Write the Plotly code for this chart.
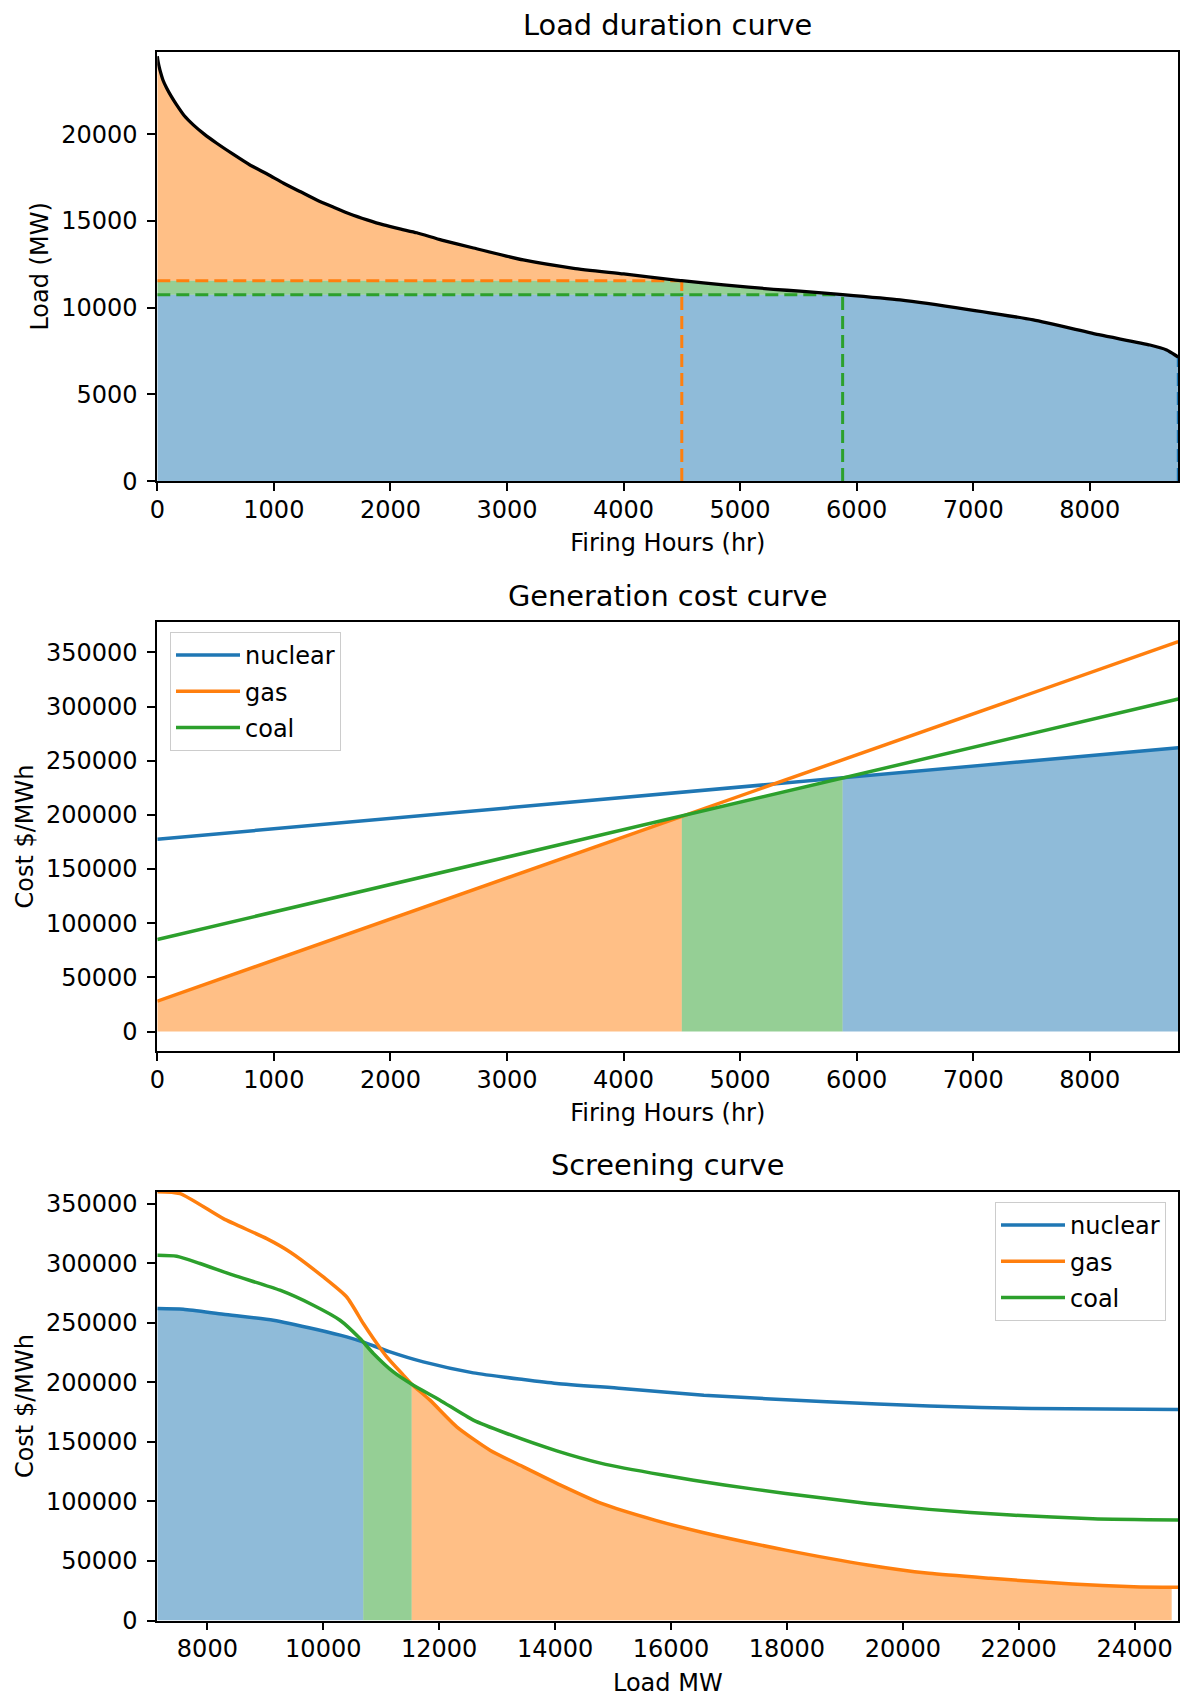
import numpy as np
import plotly.graph_objects as go

# ---------------- data ----------------
# Load duration curve: firing hours vs load (MW)
ldc_hours = [0, 5, 12, 23, 50, 81, 120, 166, 230, 309, 400, 510, 650, 795, 950, 1084, 1230,
             1368, 1510, 1653, 1800, 1942, 2090, 2226, 2440, 2713, 3140, 3572, 4001, 4430,
             4500, 4859, 5288, 5514, 5880, 6372, 6945, 7516, 8088, 8517, 8660, 8732, 8760]
ldc_load = [24500, 24250, 24000, 23700, 23100, 22650, 22180, 21690, 21080, 20540, 20020, 19480,
            18850, 18230, 17680, 17170, 16680, 16210, 15800, 15400, 15060, 14770, 14530,
            14320, 13900, 13440, 12751, 12272, 11944, 11597, 11557, 11309, 11061, 10950,
            10750, 10444, 9907, 9291, 8426, 7849, 7561, 7272, 7140]

# dispatch thresholds (load levels and firing hours where technologies switch)
gas_level = 11557
coal_level = 10750
gas_hours = 4500
coal_hours = 5880
year_hours = 8760
min_load = 7140

# Generation cost curve: cost at 0 h and at 8760 h
techs = ["nuclear", "gas", "coal"]
gen_hours = [0, 8760]
gen_nuclear = [177500, 262000]
gen_gas = [28000, 360000]
gen_coal = [85000, 307000]
gen_cross_hours = [4500, 5880]
gen_cross_cost = [198500, 234000]

# Screening curve: cost vs load
scr_nuclear_load = [7136, 7585, 8275, 9138, 9887, 10404, 10680, 11152, 11726, 12589, 13452,
                    14028, 15154, 16567, 18686, 20453, 22220, 24754]
scr_nuclear_cost = [261900, 261300, 257100, 252100, 244300, 238100, 233900, 225500, 217100,
                    207900, 202300, 199000, 194800, 189200, 183600, 180000, 178000, 177200]
scr_gas_load = [7136, 7528, 8275, 9024, 9426, 10000, 10404, 10691, 10864, 11095, 11381, 11526,
                11842, 12303, 12877, 13452, 14094, 14800, 15719, 16567, 17980, 19393, 20453,
                21512, 22925, 23986, 24754]
scr_gas_cost = [360000, 358400, 337400, 320600, 309400, 288400, 271600, 249300, 236700, 221300,
                206000, 198400, 185000, 162600, 143000, 129000, 113700, 98300, 84300, 73700,
                59100, 46600, 39600, 35400, 30600, 28400, 27900]
scr_coal_load = [7136, 7471, 7873, 8448, 9253, 9828, 10289, 10634, 10864, 11209, 11526, 12014,
                 12589, 13165, 14028, 14800, 15859, 16920, 17980, 19393, 20453, 21866, 23279,
                 24754]
scr_coal_cost = [306600, 305800, 299700, 289900, 277300, 264700, 252100, 236700, 224200, 208700,
                 198400, 185000, 168200, 157000, 142400, 131900, 122100, 113700, 106700, 98300,
                 93300, 88500, 85400, 84300]
scr_cross_load = [10690, 11526]
scr_cross_cost = [233700, 198400]
scr_fill_end_load = 24640
scr_fill_end_cost = 28000

# ---------------- style ----------------
C_BLUE, C_ORANGE, C_GREEN = "#1f77b4", "#ff7f0e", "#2ca02c"
F_BLUE, F_ORANGE, F_GREEN = "rgba(31,119,180,0.5)", "rgba(255,127,14,0.5)", "rgba(44,160,44,0.5)"
FONT = "DejaVu Sans"
W, H = 1182, 1698
SPL = dict(shape="spline", smoothing=0.6)

def yd(top_px, bot_px):
    return [1 - bot_px / H, 1 - top_px / H]

XDOM = [157.3 / W, 1178.3 / W]
Y1 = yd(51.7, 481.1)
Y2 = yd(622.1, 1051.0)
Y3 = yd(1191.7, 1620.5)

fig = go.Figure()

# ---------------- panel 1: load duration curve ----------------
h = np.array(ldc_hours, dtype=float)
L = np.array(ldc_load, dtype=float)

m = h <= gas_hours
fig.add_trace(go.Scatter(x=list(h[m]) + [0], y=list(L[m]) + [gas_level], fill="toself",
                         fillcolor=F_ORANGE, line=dict(width=0), mode="lines",
                         showlegend=False, hoverinfo="skip", xaxis="x", yaxis="y"))
m = (h >= gas_hours) & (h <= coal_hours)
fig.add_trace(go.Scatter(x=[0] + list(h[m]) + [0], y=[gas_level] + list(L[m]) + [coal_level],
                         fill="toself", fillcolor=F_GREEN, line=dict(width=0), mode="lines",
                         showlegend=False, hoverinfo="skip", xaxis="x", yaxis="y"))
m = h >= coal_hours
fig.add_trace(go.Scatter(x=[0] + list(h[m]), y=[coal_level] + list(L[m]), fill="tozeroy",
                         fillcolor=F_BLUE, line=dict(width=0), mode="lines",
                         showlegend=False, hoverinfo="skip", xaxis="x", yaxis="y"))

dash = "13px,6px"
for xs, ys, col in [
    ([0, gas_hours], [gas_level, gas_level], C_ORANGE),
    ([gas_hours, gas_hours], [0, gas_level], C_ORANGE),
    ([0, coal_hours], [coal_level, coal_level], C_GREEN),
    ([coal_hours, coal_hours], [0, coal_level], C_GREEN),
    ([year_hours, year_hours], [0, min_load], C_BLUE),
]:
    fig.add_trace(go.Scatter(x=xs, y=ys, mode="lines", line=dict(color=col, width=3.0, dash=dash),
                             showlegend=False, hoverinfo="skip", xaxis="x", yaxis="y"))

fig.add_trace(go.Scatter(x=ldc_hours, y=ldc_load, mode="lines",
                         line=dict(color="black", width=3.3, shape="spline", smoothing=0.5),
                         showlegend=False, xaxis="x", yaxis="y"))

# ---------------- panel 2: generation cost curve ----------------
fig.add_trace(go.Scatter(x=[gen_hours[0], gen_cross_hours[0]], y=[gen_gas[0], gen_cross_cost[0]],
                         fill="tozeroy", fillcolor=F_ORANGE, line=dict(width=0), mode="lines",
                         showlegend=False, hoverinfo="skip", xaxis="x2", yaxis="y2"))
fig.add_trace(go.Scatter(x=gen_cross_hours, y=gen_cross_cost,
                         fill="tozeroy", fillcolor=F_GREEN, line=dict(width=0), mode="lines",
                         showlegend=False, hoverinfo="skip", xaxis="x2", yaxis="y2"))
fig.add_trace(go.Scatter(x=[gen_cross_hours[1], gen_hours[1]], y=[gen_cross_cost[1], gen_nuclear[1]],
                         fill="tozeroy", fillcolor=F_BLUE, line=dict(width=0), mode="lines",
                         showlegend=False, hoverinfo="skip", xaxis="x2", yaxis="y2"))
for name, ys, col in [("nuclear", gen_nuclear, C_BLUE), ("gas", gen_gas, C_ORANGE), ("coal", gen_coal, C_GREEN)]:
    fig.add_trace(go.Scatter(x=gen_hours, y=ys, mode="lines", name=name, line=dict(color=col, width=3.5),
                             legendgroup="g2" + name, legend="legend", xaxis="x2", yaxis="y2"))

# ---------------- panel 3: screening curve ----------------
nl = np.array(scr_nuclear_load, dtype=float); nc = np.array(scr_nuclear_cost, dtype=float)
gl = np.array(scr_gas_load, dtype=float); gc = np.array(scr_gas_cost, dtype=float)
cl = np.array(scr_coal_load, dtype=float); cc = np.array(scr_coal_cost, dtype=float)

m = nl < scr_cross_load[0]
fig.add_trace(go.Scatter(x=list(nl[m]) + [scr_cross_load[0]], y=list(nc[m]) + [scr_cross_cost[0]],
                         fill="tozeroy", fillcolor=F_BLUE, line=dict(width=0, **SPL), mode="lines",
                         showlegend=False, hoverinfo="skip", xaxis="x3", yaxis="y3"))
m = (cl > scr_cross_load[0]) & (cl < scr_cross_load[1])
fig.add_trace(go.Scatter(x=[scr_cross_load[0]] + list(cl[m]) + [scr_cross_load[1]],
                         y=[scr_cross_cost[0]] + list(cc[m]) + [scr_cross_cost[1]],
                         fill="tozeroy", fillcolor=F_GREEN, line=dict(width=0, **SPL), mode="lines",
                         showlegend=False, hoverinfo="skip", xaxis="x3", yaxis="y3"))
m = (gl > scr_cross_load[1]) & (gl < scr_fill_end_load)
fig.add_trace(go.Scatter(x=[scr_cross_load[1]] + list(gl[m]) + [scr_fill_end_load],
                         y=[scr_cross_cost[1]] + list(gc[m]) + [scr_fill_end_cost],
                         fill="tozeroy", fillcolor=F_ORANGE, line=dict(width=0, **SPL), mode="lines",
                         showlegend=False, hoverinfo="skip", xaxis="x3", yaxis="y3"))
for name, xs, ys, col in [("nuclear", scr_nuclear_load, scr_nuclear_cost, C_BLUE),
                          ("gas", scr_gas_load, scr_gas_cost, C_ORANGE),
                          ("coal", scr_coal_load, scr_coal_cost, C_GREEN)]:
    fig.add_trace(go.Scatter(x=xs, y=ys, mode="lines", name=name,
                             line=dict(color=col, width=3.5, **SPL),
                             legendgroup="g3" + name, legend="legend2", xaxis="x3", yaxis="y3"))

# ---------------- layout ----------------
tickfont = dict(family=FONT, size=24, color="black")
labfont = dict(family=FONT, size=24, color="black")

def axis(domain, rng, dtick, anchor, title, standoff, tls):
    return dict(domain=domain, range=rng, tickmode="linear", tick0=0, dtick=dtick,
                showline=True, mirror=True, linecolor="black", linewidth=1.8,
                ticks="outside", ticklen=8, tickwidth=1.8, tickcolor="black",
                showgrid=False, zeroline=False, tickfont=tickfont, tickformat="d",
                ticklabelstandoff=tls, anchor=anchor, automargin=False,
                title=dict(text=title, font=labfont, standoff=standoff))

legend_common = dict(bgcolor="rgba(255,255,255,0.8)", bordercolor="#cccccc", borderwidth=1,
                     font=dict(family=FONT, size=24, color="black"), tracegroupgap=2,
                     itemwidth=64)

fig.update_layout(
    width=W, height=H, autosize=False,
    margin=dict(l=0, r=0, t=0, b=0, pad=0),
    paper_bgcolor="white", plot_bgcolor="white",
    font=dict(family=FONT, color="black"),
    xaxis=axis(XDOM, [0, 8760], 1000, "y", "Firing Hours (hr)", 11, -2),
    yaxis=axis(Y1, [0, 24760], 5000, "x", "Load (MW)", 6, 5),
    xaxis2=axis(XDOM, [0, 8760], 1000, "y2", "Firing Hours (hr)", 11, -2),
    yaxis2=axis(Y2, [-18000, 378000], 50000, "x2", "Cost $/MWh", 6, 5),
    xaxis3=axis(XDOM, [7136, 24754], 2000, "y3", "Load MW", 12, -2),
    yaxis3=axis(Y3, [0, 360000], 50000, "x3", "Cost $/MWh", 6, 5),
    legend=dict(x=170 / W, y=1 - 632 / H, xanchor="left", yanchor="top", **legend_common),
    legend2=dict(x=1166 / W, y=1 - 1202 / H, xanchor="right", yanchor="top", **legend_common),
)

xc = (XDOM[0] + XDOM[1]) / 2
for text, top in [("Load duration curve", 51.7), ("Generation cost curve", 622.1), ("Screening curve", 1191.7)]:
    fig.add_annotation(text=text, x=xc, y=1 - (top - 26.5) / H, xref="paper", yref="paper",
                       xanchor="center", yanchor="middle", showarrow=False,
                       font=dict(family=FONT, size=28.8, color="black"))

fig.write_html("out.html", config={"displayModeBar": False},
               post_script="document.body.style.margin='0px';")
